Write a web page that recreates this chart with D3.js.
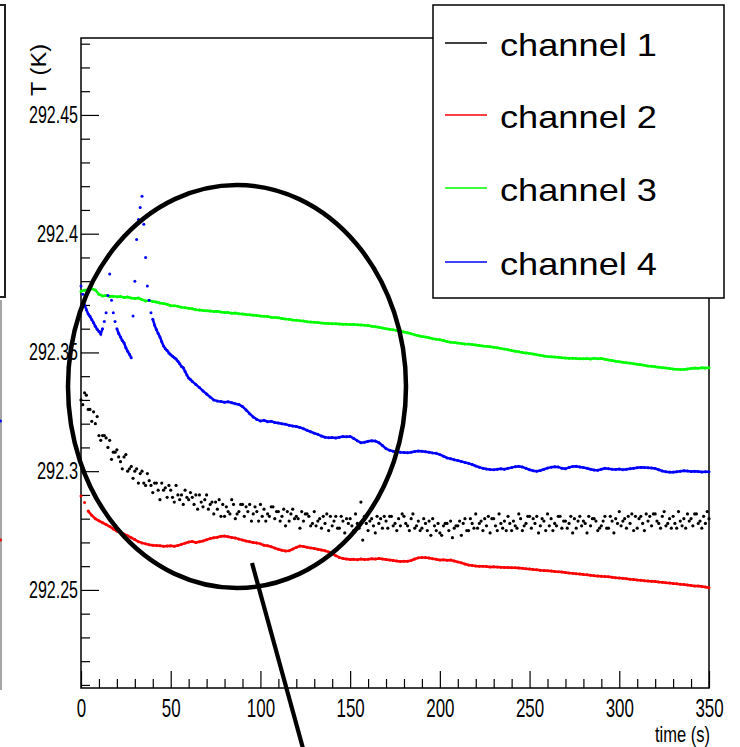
<!DOCTYPE html>
<html><head><meta charset="utf-8">
<script src="https://cdn.jsdelivr.net/npm/d3@7"></script>
<style>body{margin:0;background:#fff}svg{display:block}text{font-family:"Liberation Sans",Arial,Helvetica,sans-serif}</style>
</head><body><svg id="chart" width="740" height="747"></svg>
<script>
// ---------- data ----------
const xDomain = [0, 350];
const yDomain = [292.2087, 292.4824];
const xMajorTicks = [0, 50, 100, 150, 200, 250, 300, 350];
const xTickLabels = ["0", "50", "100", "150", "200", "250", "300", "350"];
const yMajorTicks = [292.25, 292.3, 292.35, 292.4, 292.45];
const yTickLabels = ["292.25", "292.3", "292.35", "292.4", "292.45"];
const xTitle = "time (s)";
const yTitle = "T (K)";
const seriesNames = ["channel 1", "channel 2", "channel 3", "channel 4"];
const seriesColors = ["#000000", "#ff0000", "#00ff00", "#0000ff"];

// channel 1 (black): one reading per second from t = 0 s
const ch1Start = 0, ch1Step = 1;
const ch1Values = [
292.330,292.328,292.333,292.332,292.326,292.326,292.321,292.325,292.320,292.323,
292.315,292.313,292.315,292.315,292.314,292.310,292.313,292.305,292.308,292.308,
292.309,292.306,292.304,292.301,292.306,292.307,292.300,292.301,292.302,292.297,
292.300,292.301,292.295,292.299,292.300,292.295,292.294,292.299,292.296,292.294,
292.291,292.295,292.295,292.292,292.288,292.295,292.292,292.293,292.289,292.294,
292.292,292.289,292.287,292.294,292.290,292.288,292.290,292.286,292.292,292.289,
292.288,292.291,292.289,292.286,292.290,292.284,292.290,292.287,292.285,292.288,
292.290,292.284,292.286,292.287,292.282,292.287,292.284,292.288,292.281,292.286,
292.281,292.285,292.283,292.282,292.288,292.286,292.280,292.282,292.283,292.286,
292.286,292.281,292.285,292.283,292.286,292.279,292.282,292.285,292.283,292.279,
292.286,292.281,292.284,292.279,292.282,292.281,292.285,292.285,292.280,292.283,
292.283,292.279,292.281,292.284,292.277,292.283,292.279,292.282,292.284,292.280,
292.281,292.280,292.276,292.283,292.279,292.282,292.282,292.281,292.277,292.278,
292.283,292.277,292.279,292.280,292.276,292.281,292.278,292.282,292.275,292.281,
292.277,292.279,292.281,292.276,292.276,292.281,292.279,292.274,292.280,292.278,
292.280,292.277,292.275,292.282,292.278,292.276,292.287,292.271,292.281,292.278,
292.275,292.279,292.280,292.277,292.274,292.281,292.278,292.280,292.276,292.281,
292.279,292.276,292.281,292.281,292.277,292.278,292.275,292.280,292.277,292.282,
292.281,292.278,292.277,292.275,292.280,292.282,292.276,292.277,292.279,292.275,
292.276,292.280,292.278,292.275,292.279,292.273,292.280,292.277,292.275,292.278,
292.274,292.273,292.277,292.278,292.278,292.275,292.279,292.272,292.276,292.277,
292.277,292.279,292.273,292.278,292.280,292.275,292.275,292.280,292.278,292.276,
292.282,292.276,292.278,292.279,292.275,292.280,292.277,292.281,292.274,292.280,
292.280,292.277,292.275,292.282,292.278,292.276,292.279,292.275,292.281,292.278,
292.275,292.279,292.277,292.276,292.282,292.280,292.275,292.277,292.278,292.281,
292.281,292.276,292.280,292.278,292.281,292.274,292.277,292.280,292.279,292.275,
292.282,292.277,292.280,292.275,292.278,292.277,292.281,292.281,292.276,292.279,
292.279,292.276,292.278,292.281,292.274,292.280,292.276,292.279,292.281,292.277,
292.279,292.278,292.274,292.281,292.277,292.280,292.280,292.279,292.275,292.276,
292.277,292.279,292.281,292.276,292.276,292.281,292.279,292.274,292.280,292.278,
292.283,292.277,292.279,292.280,292.276,292.281,292.278,292.282,292.275,292.281,
292.276,292.280,292.281,292.278,292.275,292.282,292.279,292.281,292.277,292.282,
292.282,292.279,292.278,292.276,292.281,292.283,292.277,292.278,292.280,292.276,
292.281,292.278,292.276,292.283,292.279,292.277,292.280,292.276,292.282,292.279,
292.280,292.277,292.282,292.282,292.278,292.279,292.276,292.281,292.278,292.283,
292.280];

// channel 2 (red): one reading every 2 s from t = 0 s
const ch2Start = 0, ch2Step = 2;
const ch2Values = [
292.2895,292.2868,292.2832,292.2814,292.2800,292.2791,292.2783,292.2775,292.2767,292.2757,
292.2748,292.2741,292.2735,292.2728,292.2720,292.2712,292.2703,292.2698,292.2694,292.2690,
292.2688,292.2687,292.2686,292.2684,292.2685,292.2686,292.2684,292.2687,292.2692,292.2697,
292.2702,292.2704,292.2700,292.2703,292.2706,292.2711,292.2716,292.2720,292.2722,292.2726,
292.2727,292.2724,292.2721,292.2719,292.2714,292.2710,292.2706,292.2703,292.2700,292.2698,
292.2694,292.2688,292.2686,292.2682,292.2676,292.2671,292.2667,292.2664,292.2665,292.2672,
292.2679,292.2685,292.2683,292.2680,292.2677,292.2674,292.2671,292.2668,292.2665,292.2660,
292.2652,292.2644,292.2637,292.2632,292.2630,292.2628,292.2629,292.2627,292.2630,292.2628,
292.2629,292.2631,292.2630,292.2632,292.2630,292.2628,292.2626,292.2624,292.2622,292.2620,
292.2621,292.2621,292.2624,292.2630,292.2635,292.2637,292.2636,292.2634,292.2631,292.2629,
292.2626,292.2627,292.2625,292.2626,292.2622,292.2618,292.2614,292.2609,292.2605,292.2603,
292.2601,292.2600,292.2600,292.2599,292.2597,292.2598,292.2596,292.2595,292.2594,292.2594,
292.2593,292.2593,292.2592,292.2591,292.2589,292.2588,292.2586,292.2585,292.2583,292.2582,
292.2581,292.2580,292.2578,292.2576,292.2575,292.2573,292.2571,292.2570,292.2568,292.2567,
292.2565,292.2564,292.2562,292.2560,292.2559,292.2558,292.2556,292.2555,292.2553,292.2551,
292.2550,292.2549,292.2547,292.2545,292.2544,292.2542,292.2541,292.2539,292.2538,292.2536,
292.2535,292.2533,292.2532,292.2530,292.2529,292.2527,292.2526,292.2524,292.2523,292.2521,
292.2519,292.2517,292.2516,292.2514,292.2512,292.2509];

// channel 3 (green): one reading every 2 s from t = 0 s
const ch3Start = 0, ch3Step = 2;
const ch3Values = [
292.3758,292.3762,292.3764,292.3768,292.3763,292.3745,292.3738,292.3740,292.3736,292.3737,
292.3734,292.3735,292.3731,292.3733,292.3729,292.3727,292.3729,292.3722,292.3717,292.3719,
292.3714,292.3712,292.3708,292.3706,292.3703,292.3697,292.3697,292.3694,292.3690,292.3688,
292.3686,292.3684,292.3680,292.3679,292.3677,292.3675,292.3674,292.3672,292.3673,292.3670,
292.3668,292.3668,292.3665,292.3666,292.3663,292.3662,292.3660,292.3659,292.3657,292.3656,
292.3653,292.3652,292.3651,292.3648,292.3647,292.3646,292.3643,292.3641,292.3640,292.3637,
292.3636,292.3633,292.3632,292.3629,292.3628,292.3627,292.3626,292.3624,292.3623,292.3622,
292.3621,292.3621,292.3620,292.3619,292.3619,292.3618,292.3618,292.3617,292.3616,292.3614,
292.3613,292.3610,292.3608,292.3606,292.3603,292.3600,292.3598,292.3595,292.3592,292.3590,
292.3586,292.3583,292.3579,292.3574,292.3570,292.3567,292.3565,292.3562,292.3558,292.3556,
292.3553,292.3550,292.3546,292.3543,292.3542,292.3540,292.3538,292.3536,292.3535,292.3533,
292.3531,292.3529,292.3527,292.3526,292.3524,292.3522,292.3520,292.3517,292.3514,292.3511,
292.3508,292.3505,292.3503,292.3500,292.3498,292.3496,292.3493,292.3490,292.3488,292.3485,
292.3483,292.3482,292.3481,292.3480,292.3478,292.3477,292.3476,292.3475,292.3474,292.3473,
292.3473,292.3474,292.3472,292.3475,292.3473,292.3474,292.3471,292.3468,292.3466,292.3463,
292.3461,292.3459,292.3457,292.3455,292.3452,292.3450,292.3448,292.3446,292.3443,292.3442,
292.3440,292.3438,292.3436,292.3434,292.3432,292.3430,292.3429,292.3428,292.3428,292.3430,
292.3432,292.3434,292.3433,292.3435,292.3434,292.3436];

// channel 4 (blue): early part one reading per second (t = 0..62 s), then every 2 s from t = 64 s
const ch4EarlyStart = 0, ch4EarlyStep = 1;
const ch4EarlyValues = [
292.3780,292.3745,292.3700,292.3680,292.3662,292.3652,292.3638,292.3625,292.3610,292.3598,
292.3588,292.3578,292.3600,292.3630,292.3667,292.3740,292.3830,292.3720,292.3667,292.3630,
292.3600,292.3580,292.3565,292.3550,292.3540,292.3520,292.3505,292.3492,292.3478,292.3653,
292.3800,292.3976,292.4060,292.4110,292.4158,292.4040,292.3900,292.3780,292.3720,292.3667,
292.3640,292.3615,292.3597,292.3580,292.3565,292.3545,292.3527,292.3516,292.3508,292.3498,
292.3490,292.3484,292.3478,292.3472,292.3463,292.3452,292.3441,292.3435,292.3420,292.3405,
292.3392,292.3386,292.3378];
const ch4LateStart = 64, ch4LateStep = 2;
const ch4LateValues = [
292.3365,292.3352,292.3338,292.3325,292.3312,292.3300,292.3295,292.3293,292.3290,292.3292,
292.3288,292.3284,292.3281,292.3272,292.3258,292.3242,292.3228,292.3218,292.3211,292.3214,
292.3208,292.3210,292.3205,292.3203,292.3200,292.3198,292.3193,292.3190,292.3188,292.3184,
292.3179,292.3172,292.3166,292.3160,292.3155,292.3148,292.3143,292.3141,292.3142,292.3140,
292.3143,292.3146,292.3145,292.3146,292.3138,292.3128,292.3120,292.3122,292.3126,292.3128,
292.3127,292.3120,292.3108,292.3095,292.3088,292.3084,292.3083,292.3080,292.3079,292.3078,
292.3080,292.3083,292.3085,292.3084,292.3082,292.3080,292.3077,292.3075,292.3070,292.3063,
292.3056,292.3052,292.3048,292.3045,292.3041,292.3037,292.3033,292.3028,292.3022,292.3017,
292.3012,292.3009,292.3007,292.3006,292.3008,292.3010,292.3008,292.3012,292.3015,292.3019,
292.3021,292.3018,292.3012,292.3006,292.3002,292.3000,292.3003,292.3008,292.3013,292.3017,
292.3019,292.3018,292.3012,292.3010,292.3016,292.3020,292.3021,292.3018,292.3015,292.3012,
292.3008,292.3005,292.3004,292.3008,292.3012,292.3010,292.3008,292.3007,292.3009,292.3006,
292.3008,292.3010,292.3012,292.3014,292.3016,292.3015,292.3014,292.3013,292.3011,292.3006,
292.3001,292.2998,292.2996,292.2996,292.2998,292.3000,292.3002,292.3001,292.2999,292.3000,
292.2999,292.2997,292.2998,292.2998];

// ---------- build ----------
function toPoints(start, step, vals) { return vals.map((v, i) => ({ t: start + i * step, v })); }
const series = [
  { pts: toPoints(ch1Start, ch1Step, ch1Values), line: false },
  { pts: toPoints(ch2Start, ch2Step, ch2Values), line: true },
  { pts: toPoints(ch3Start, ch3Step, ch3Values), line: true },
  { pts: toPoints(ch4EarlyStart, ch4EarlyStep, ch4EarlyValues).concat(toPoints(ch4LateStart, ch4LateStep, ch4LateValues)), line: true }
];

const svg = d3.select("#chart");
svg.append("rect").attr("width", 740).attr("height", 747).attr("fill", "#fff");

const x = d3.scaleLinear().domain(xDomain).range([81, 709]);
const y = d3.scaleLinear().domain(yDomain).range([688, 38]);

// fragments of neighbouring panels at the left edge
svg.append("path").attr("d", "M0,5H5V297H0").attr("fill", "none").attr("stroke", "#222").attr("stroke-width", 2);
svg.append("line").attr("x1", 1).attr("x2", 1).attr("y1", 300).attr("y2", 690).attr("stroke", "#888").attr("stroke-width", 1.5);
svg.append("circle").attr("cx", 0.5).attr("cy", 421).attr("r", 1.5).attr("fill", "#0000ff");
svg.append("circle").attr("cx", 0.5).attr("cy", 540).attr("r", 1.5).attr("fill", "#ff0000");

// minor ticks
const xMinor = d3.range(0, 351, 10).filter(v => v % 50 !== 0);
const yMinor = d3.range(1, 29).map(k => 292.2 + k / 100).filter(v => !yMajorTicks.some(m => Math.abs(m - v) < 1e-6));

const gxm = svg.append("g").attr("transform", `translate(0,${y.range()[0]})`)
  .call(d3.axisBottom(x).tickValues(xMinor).tickSize(-9).tickSizeOuter(0).tickFormat(""));
const gym = svg.append("g").attr("transform", `translate(${x.range()[0]},0)`)
  .call(d3.axisLeft(y).tickValues(yMinor).tickSize(-9).tickSizeOuter(0).tickFormat(""));

const gx = svg.append("g").attr("transform", `translate(0,${y.range()[0]})`)
  .call(d3.axisBottom(x).tickValues(xMajorTicks).tickSize(-17).tickSizeOuter(0).tickPadding(0)
    .tickFormat((d, i) => xTickLabels[i]));
const gy = svg.append("g").attr("transform", `translate(${x.range()[0]},0)`)
  .call(d3.axisLeft(y).tickValues(yMajorTicks).tickSize(-18).tickSizeOuter(0).tickPadding(3)
    .tickFormat((d, i) => yTickLabels[i]));

[gxm, gym, gx, gy].forEach(g => {
  g.select(".domain").remove();
  g.selectAll(".tick line").attr("stroke", "#000").attr("stroke-width", 1.2);
});
gx.selectAll(".tick text")
  .attr("y", 29).attr("dy", null)
  .attr("font-size", 26).attr("fill", "#000")
  .attr("textLength", d => xTickLabels[xMajorTicks.indexOf(d)].length * 9.4)
  .attr("lengthAdjust", "spacingAndGlyphs");
gy.selectAll(".tick text")
  .attr("x", -3).attr("dy", "7.5px")
  .attr("font-size", 24).attr("fill", "#000")
  .attr("textLength", d => yTickLabels[yMajorTicks.indexOf(d)].length === 6 ? 49 : 41)
  .attr("lengthAdjust", "spacingAndGlyphs");

// frame
svg.append("rect").attr("x", 81).attr("y", 38).attr("width", 628).attr("height", 650)
  .attr("fill", "none").attr("stroke", "#000").attr("stroke-width", 1.5);

// axis titles
svg.append("text").attr("x", 710).attr("y", 742).attr("text-anchor", "end")
  .attr("font-size", 22).attr("textLength", 55).attr("lengthAdjust", "spacingAndGlyphs").text(xTitle);
svg.append("text").attr("transform", "translate(46,44) rotate(-90)").attr("text-anchor", "end")
  .attr("font-size", 22).attr("textLength", 52).attr("lengthAdjust", "spacingAndGlyphs").text(yTitle);

// data
const lineGen = d3.line().x(d => x(d.t)).y(d => y(d.v));
const plot = svg.append("g");
series.forEach((s, si) => {
  const g = plot.append("g");
  const color = seriesColors[si];
  if (s.line) {
    const segs = []; let cur = [s.pts[0]];
    for (let i = 1; i < s.pts.length; i++) {
      if (Math.abs(y(s.pts[i].v) - y(s.pts[i - 1].v)) > 6) { segs.push(cur); cur = []; }
      cur.push(s.pts[i]);
    }
    segs.push(cur);
    g.selectAll("path").data(segs.filter(d => d.length > 1)).join("path")
      .attr("d", lineGen).attr("fill", "none").attr("stroke", color).attr("stroke-width", 2.5);
  }
  g.selectAll("circle").data(s.pts).join("circle")
    .attr("cx", d => x(d.t)).attr("cy", d => y(d.v)).attr("r", s.line ? 1.5 : 1.6).attr("fill", color);
});

// legend
const lg = svg.append("g");
lg.append("rect").attr("x", 433).attr("y", 5).attr("width", 291).attr("height", 293)
  .attr("fill", "#fff").attr("stroke", "#000").attr("stroke-width", 1.5);
const legendY = [43, 115, 188, 262];
seriesNames.forEach((name, i) => {
  lg.append("line").attr("x1", 445).attr("x2", 487).attr("y1", legendY[i]).attr("y2", legendY[i])
    .attr("stroke", seriesColors[i]).attr("stroke-width", 1.5);
  lg.append("text").attr("x", 500).attr("y", legendY[i] + 12.5).attr("font-size", 32)
    .attr("textLength", 157).attr("lengthAdjust", "spacingAndGlyphs").text(name);
});

// hand-drawn annotation
svg.append("ellipse").attr("cx", 237).attr("cy", 386.5).attr("rx", 169).attr("ry", 201.5)
  .attr("fill", "none").attr("stroke", "#000").attr("stroke-width", 4.5);
svg.append("line").attr("x1", 252).attr("y1", 563).attr("x2", 304).attr("y2", 752)
  .attr("stroke", "#000").attr("stroke-width", 4.2);
</script></body></html>
